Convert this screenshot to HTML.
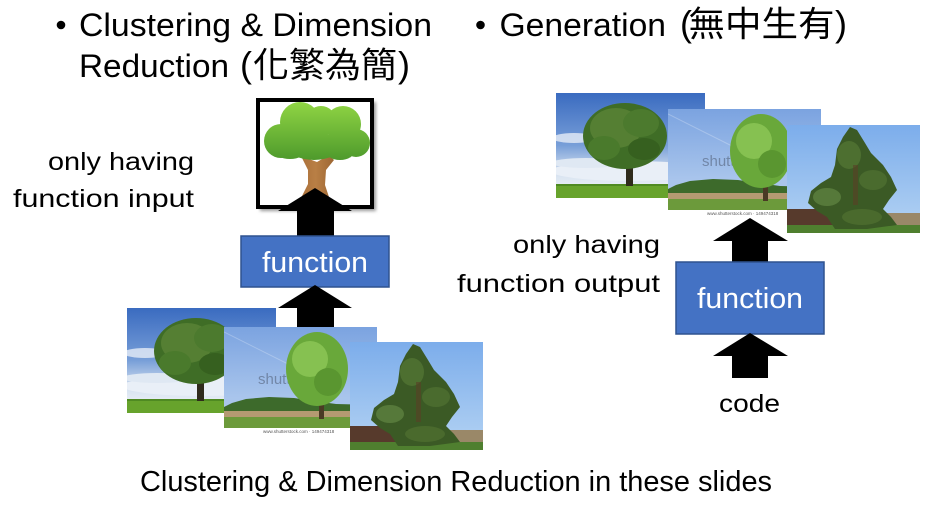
<!DOCTYPE html>
<html>
<head>
<meta charset="utf-8">
<style>
html,body{margin:0;padding:0;background:#fff;}
svg{display:block;}
text{font-family:"Liberation Sans","Noto Sans CJK TC",sans-serif;fill:#000;}
.cjk{font-family:"Noto Sans CJK TC","Noto Sans CJK SC",sans-serif;}
</style>
</head>
<body>
<svg width="929" height="510" viewBox="0 0 929 510" xmlns="http://www.w3.org/2000/svg">
<defs>
  <linearGradient id="skyA" x1="0" y1="0" x2="0" y2="1">
    <stop offset="0" stop-color="#3a6bc0"/>
    <stop offset="0.5" stop-color="#789fd8"/>
    <stop offset="0.75" stop-color="#d4e0ef"/>
    <stop offset="0.88" stop-color="#e6edf5"/>
  </linearGradient>
  <linearGradient id="skyB" x1="0" y1="0" x2="0" y2="1">
    <stop offset="0" stop-color="#7ba3e0"/>
    <stop offset="0.7" stop-color="#a9c5ec"/>
  </linearGradient>
  <linearGradient id="skyC" x1="0" y1="0" x2="0" y2="1">
    <stop offset="0" stop-color="#7cadeb"/>
    <stop offset="1" stop-color="#b4d3f3"/>
  </linearGradient>
  <linearGradient id="leaf" gradientUnits="userSpaceOnUse" x1="0" y1="103" x2="0" y2="160">
    <stop offset="0" stop-color="#8fd443"/>
    <stop offset="1" stop-color="#4e9a2c"/>
  </linearGradient>
  <linearGradient id="trunk" x1="0" y1="0" x2="1" y2="0">
    <stop offset="0" stop-color="#a46a36"/>
    <stop offset="0.5" stop-color="#b97f45"/>
    <stop offset="1" stop-color="#9a6331"/>
  </linearGradient>
  <filter id="sh" x="-10%" y="-10%" width="130%" height="130%">
    <feGaussianBlur stdDeviation="1.5"/>
  </filter>
  <clipPath id="cA"><rect x="0" y="0" width="149" height="105"/></clipPath>
  <clipPath id="cB"><rect x="0" y="0" width="153" height="108"/></clipPath>
  <clipPath id="cC"><rect x="0" y="0" width="133" height="108"/></clipPath>

  <g id="pA" clip-path="url(#cA)">
    <rect x="0" y="0" width="149" height="105" fill="url(#skyA)"/>
    <ellipse cx="18" cy="45" rx="22" ry="5" fill="#dfe8f4" opacity="0.85"/>
    <ellipse cx="75" cy="78" rx="80" ry="10" fill="#e9eff7"/>
    <ellipse cx="30" cy="70" rx="35" ry="5" fill="#dfe8f3"/>
    <rect x="0" y="91" width="149" height="14" fill="#67a32c"/>
    <rect x="0" y="91" width="149" height="2" fill="#4f8a22"/>
    <rect x="70" y="70" width="7" height="23" fill="#2f2b1c"/>
    <ellipse cx="69" cy="43" rx="42" ry="33" fill="#3f6d26"/>
    <ellipse cx="60" cy="35" rx="26" ry="20" fill="#557f33"/>
    <ellipse cx="85" cy="30" rx="18" ry="14" fill="#4c7a2e"/>
    <ellipse cx="48" cy="55" rx="16" ry="12" fill="#4a7a2c"/>
    <ellipse cx="88" cy="56" rx="16" ry="11" fill="#36601f"/>
  </g>

  <g id="pB" clip-path="url(#cB)">
    <rect x="0" y="0" width="153" height="101" fill="url(#skyB)"/>
    <line x1="0" y1="5" x2="90" y2="50" stroke="#ffffff" stroke-width="1" opacity="0.25"/>
    <text x="34" y="57" font-size="15" style="fill:#5f708c" opacity="0.7">shutterstock</text>
    <polygon points="0,80 8,76 22,72 45,70 70,71 90,74 112,77 153,78 153,90 0,90" fill="#3d6a2b"/>
    <rect x="0" y="84" width="153" height="8" fill="#b49a72"/>
    <rect x="0" y="90" width="153" height="11" fill="#6c9a3b"/>
    <rect x="95" y="70" width="5" height="22" fill="#4a3a24"/>
    <ellipse cx="93" cy="42" rx="31" ry="37" fill="#69a83a"/>
    <ellipse cx="86" cy="32" rx="18" ry="18" fill="#86c151"/>
    <ellipse cx="104" cy="55" rx="14" ry="14" fill="#5a9630"/>
    <rect x="0" y="101" width="153" height="7" fill="#ffffff"/>
    <text x="39" y="106" font-size="4.5" style="fill:#555">www.shutterstock.com · 149474318</text>
  </g>

  <g id="pC" clip-path="url(#cC)">
    <rect x="0" y="0" width="133" height="108" fill="url(#skyC)"/>
    <rect x="0" y="84" width="52" height="20" fill="#573a2c"/>
    <rect x="100" y="88" width="33" height="12" fill="#9a8868"/>
    <rect x="0" y="100" width="133" height="8" fill="#4f7f2f"/>
    <polygon points="63,2 70,5 78,18 84,28 96,40 104,52 110,65 102,75 96,84 104,92 110,100 80,104 48,104 40,92 30,86 21,78 24,66 34,58 44,52 48,40 50,24 56,12" fill="#3b5a25"/>
    <ellipse cx="62" cy="30" rx="12" ry="14" fill="#4d6f30"/>
    <ellipse cx="86" cy="55" rx="14" ry="10" fill="#4a6b2e"/>
    <ellipse cx="40" cy="72" rx="14" ry="9" fill="#56793a"/>
    <ellipse cx="75" cy="92" rx="20" ry="8" fill="#4a6a2d"/>
    <rect x="66" y="40" width="5" height="40" fill="#5a4026" opacity="0.6"/>
  </g>
</defs>

<!-- Titles -->
<circle cx="61" cy="25" r="4.3" fill="#000"/>
<text x="79" y="36" font-size="32" textLength="353" lengthAdjust="spacingAndGlyphs">Clustering &amp; Dimension</text>
<text x="79" y="77" font-size="32" textLength="150" lengthAdjust="spacingAndGlyphs">Reduction</text>
<text x="240" y="77" font-size="36">(</text>
<text class="cjk" x="253" y="77.5" font-size="35" textLength="144" lengthAdjust="spacingAndGlyphs">化繁為簡</text>
<text x="398" y="77" font-size="36">)</text>

<circle cx="480.5" cy="25" r="4.3" fill="#000"/>
<text x="499.5" y="36" font-size="32" textLength="166.5" lengthAdjust="spacingAndGlyphs">Generation</text>
<text x="680" y="36" font-size="36">(</text>
<text class="cjk" x="688.5" y="36.5" font-size="35" textLength="146" lengthAdjust="spacingAndGlyphs">無中生有</text>
<text x="835" y="36" font-size="36">)</text>

<!-- Left labels -->
<text x="48" y="170" font-size="25" textLength="146" lengthAdjust="spacingAndGlyphs">only having</text>
<text x="13" y="207" font-size="25" textLength="181" lengthAdjust="spacingAndGlyphs">function input</text>

<!-- Tree icon box -->
<rect x="260" y="102" width="116" height="109" fill="#9a9a9a" filter="url(#sh)"/>
<rect x="258" y="100" width="114" height="107" fill="#ffffff" stroke="#000" stroke-width="4"/>
<polygon points="301,156 317,162 329,155 334,160 326,170 325,185 330,200 336,206 295,206 301,198 308,184 308,170" fill="url(#trunk)"/>
<g fill="url(#leaf)">
  <circle cx="281" cy="141" r="17"/>
  <circle cx="300" cy="122" r="20"/>
  <circle cx="343" cy="124" r="18"/>
  <circle cx="356" cy="143" r="14"/>
  <ellipse cx="314" cy="146" rx="27" ry="14"/>
  <ellipse cx="290" cy="150" rx="16" ry="9"/>
  <ellipse cx="340" cy="150" rx="15" ry="10"/>
  <circle cx="321" cy="121" r="15"/>
</g>

<!-- Left arrow top -->
<polygon points="315,188 352,211 334,211 334,237 297,237 297,211 278,211" fill="#000"/>

<!-- Left function box -->
<rect x="241" y="236" width="148" height="51" fill="#4472c4" stroke="#2f528f" stroke-width="1.5"/>
<text x="262" y="272" font-size="29" textLength="106" lengthAdjust="spacingAndGlyphs" style="fill:#fff">function</text>

<!-- Left arrow bottom -->
<polygon points="315,285 352,308 334,308 334,340 297,340 297,308 278,308" fill="#000"/>

<!-- Left photos -->
<use href="#pA" x="127" y="308"/>
<use href="#pB" x="224" y="327"/>
<use href="#pC" x="350" y="342"/>

<!-- Right photos -->
<use href="#pA" x="556" y="93"/>
<use href="#pB" x="668" y="109"/>
<use href="#pC" x="787" y="125"/>

<!-- Right labels -->
<text x="513" y="253" font-size="25" textLength="147" lengthAdjust="spacingAndGlyphs">only having</text>
<text x="457" y="292" font-size="25" textLength="203" lengthAdjust="spacingAndGlyphs">function output</text>

<!-- Right arrow top -->
<polygon points="750,218 788,241 768,241 768,263 732,263 732,241 713,241" fill="#000"/>

<!-- Right function box -->
<rect x="676" y="262" width="148" height="72" fill="#4472c4" stroke="#2f528f" stroke-width="1.5"/>
<text x="697" y="308" font-size="29" textLength="106" lengthAdjust="spacingAndGlyphs" style="fill:#fff">function</text>

<!-- Right arrow bottom -->
<polygon points="750,333 788,356 768,356 768,378 732,378 732,356 713,356" fill="#000"/>

<text x="719" y="412" font-size="25" textLength="61" lengthAdjust="spacingAndGlyphs">code</text>

<!-- Caption -->
<text x="140" y="491" font-size="29" textLength="632" lengthAdjust="spacingAndGlyphs">Clustering &amp; Dimension Reduction in these slides</text>
</svg>
</body>
</html>
